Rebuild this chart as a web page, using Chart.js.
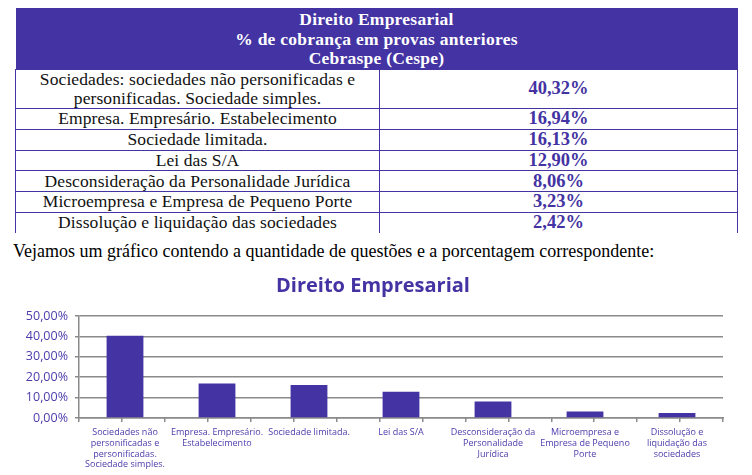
<!DOCTYPE html>
<html>
<head>
<meta charset="utf-8">
<script src="https://cdn.jsdelivr.net/npm/chart.js@4/dist/chart.umd.min.js"></script>
<style>
  html, body { margin: 0; padding: 0; background: #fff; width: 752px; height: 475px; overflow: hidden; }
  #tbl { position: absolute; left: 15px; top: 8px; width: 722px; border-collapse: collapse; table-layout: fixed;
         font-family: "Liberation Serif", serif; }
  #tbl th { background: #4433a3; color: #fff; font-weight: bold; font-size: 17.5px; letter-spacing: 0.25px; line-height: 19.5px; height: 61px; padding: 2px 0 0 0; text-align: center; box-sizing: border-box; }
  #tbl td { border: 1.5px solid #4433a3; padding: 0; text-align: center; font-size: 17.5px; letter-spacing: 0.1px; line-height: 19px; color: #111; }
  #tbl td.v { color: #4433a3; font-weight: bold; font-size: 18.5px; letter-spacing: 0; }
  #tbl tr.last td { border-bottom: none; }
  #para { position: absolute; left: 13px; top: 241px; font-family: "Liberation Serif", serif; font-size: 18px; color: #000; white-space: nowrap; }
  #wrap { position: absolute; left: 0; top: 266px; width: 752px; height: 209px; }
</style>
</head>
<body>
<table id="tbl">
  <colgroup><col style="width:364px"><col style="width:358px"></colgroup>
  <thead><tr><th colspan="2" id="hdr"></th></tr></thead>
  <tbody id="tb"></tbody>
</table>
<div id="para">Vejamos um gráfico contendo a quantidade de questões e a porcentagem correspondente:</div>
<div id="wrap"><canvas id="c"></canvas></div>
<script>
const headerLines = ["Direito Empresarial", "% de cobrança em provas anteriores", "Cebraspe (Cespe)"];
const tableTopics = [
  ["Sociedades: sociedades não personificadas e", "personificadas. Sociedade simples."],
  ["Empresa. Empresário. Estabelecimento"],
  ["Sociedade limitada."],
  ["Lei das S/A"],
  ["Desconsideração da Personalidade Jurídica"],
  ["Microempresa e Empresa de Pequeno Porte"],
  ["Dissolução e liquidação das sociedades"]
];
const categories = [
  ["Sociedades não", "personificadas e", "personificadas.", "Sociedade simples."],
  ["Empresa. Empresário.", "Estabelecimento"],
  ["Sociedade limitada."],
  ["Lei das S/A"],
  ["Desconsideração da", "Personalidade", "Jurídica"],
  ["Microempresa e", "Empresa de Pequeno", "Porte"],
  ["Dissolução e", "liquidação das", "sociedades"]
];
const values = [40.32, 16.94, 16.13, 12.90, 8.06, 3.23, 2.42];
const chartTitle = "Direito Empresarial";
const yTicks = [0, 10, 20, 30, 40, 50];

const fmt = v => v.toFixed(2).replace('.', ',') + '%';

document.getElementById('hdr').innerHTML = headerLines.join('<br>');
const rowHeights = [39, 21, 21, 20.5, 21, 20.5, 21];
const tb = document.getElementById('tb');
tableTopics.forEach((t, i) => {
  const tr = document.createElement('tr');
  if (i === tableTopics.length - 1) tr.className = 'last';
  tr.style.height = rowHeights[i] + 'px';
  const a = document.createElement('td'); a.innerHTML = t.join('<br>');
  const b = document.createElement('td'); b.className = 'v'; b.textContent = fmt(values[i]);
  tr.appendChild(a); tr.appendChild(b); tb.appendChild(tr);
});

const purple = '#4433a3';
const labelPurple = '#4b3caa';
const gridGray = '#8a8a8a';
const font = '"Open Sans", sans-serif';

new Chart(document.getElementById('c'), {
  type: 'bar',
  data: {
    labels: categories,
    datasets: [{ data: values, backgroundColor: purple, borderWidth: 0, barPercentage: 0.4, categoryPercentage: 1 }]
  },
  options: {
    responsive: true,
    maintainAspectRatio: false,
    animation: false,
    layout: { padding: { left: 0, right: 6, top: 0, bottom: 0 } },
    plugins: {
      legend: { display: false },
      tooltip: { enabled: false },
      title: { display: true, text: chartTitle, color: purple,
               font: { family: font, size: 20, weight: 'bold' }, padding: { top: 8, bottom: 18 } }
    },
    scales: {
      x: {
        grid: { display: true, drawOnChartArea: false, drawTicks: false },
        border: { display: true, color: gridGray, width: 1.5 },
        ticks: { color: labelPurple, font: { family: font, size: 9 }, padding: 9, maxRotation: 0, autoSkip: false },
        afterFit: s => { s.height = 57; }
      },
      x2: {
        type: 'linear', axis: 'x', min: 0, max: 14, position: { y: 0 },
        ticks: { display: false, stepSize: 1 },
        grid: { drawOnChartArea: false, color: gridGray, tickLength: 4, lineWidth: 1.5 },
        border: { display: false }
      },
      y: {
        min: 0, max: 50,
        afterBuildTicks: s => { s.ticks = yTicks.map(v => ({ value: v })); },
        ticks: { color: labelPurple, font: { family: font, size: 12.5 }, padding: 7, callback: v => fmt(v) },
        grid: { color: gridGray, lineWidth: 1.5, tickLength: 4 },
        border: { display: true, color: gridGray, width: 1.5 },
        afterFit: s => { s.width = 79; }
      },
      yRightSpacer: {
        type: 'linear', axis: 'y', position: 'right', display: true,
        ticks: { display: false }, grid: { display: false, drawTicks: false }, border: { display: false },
        afterFit: s => { s.width = 23; }
      }
    }
  }
});
</script>
</body>
</html>
